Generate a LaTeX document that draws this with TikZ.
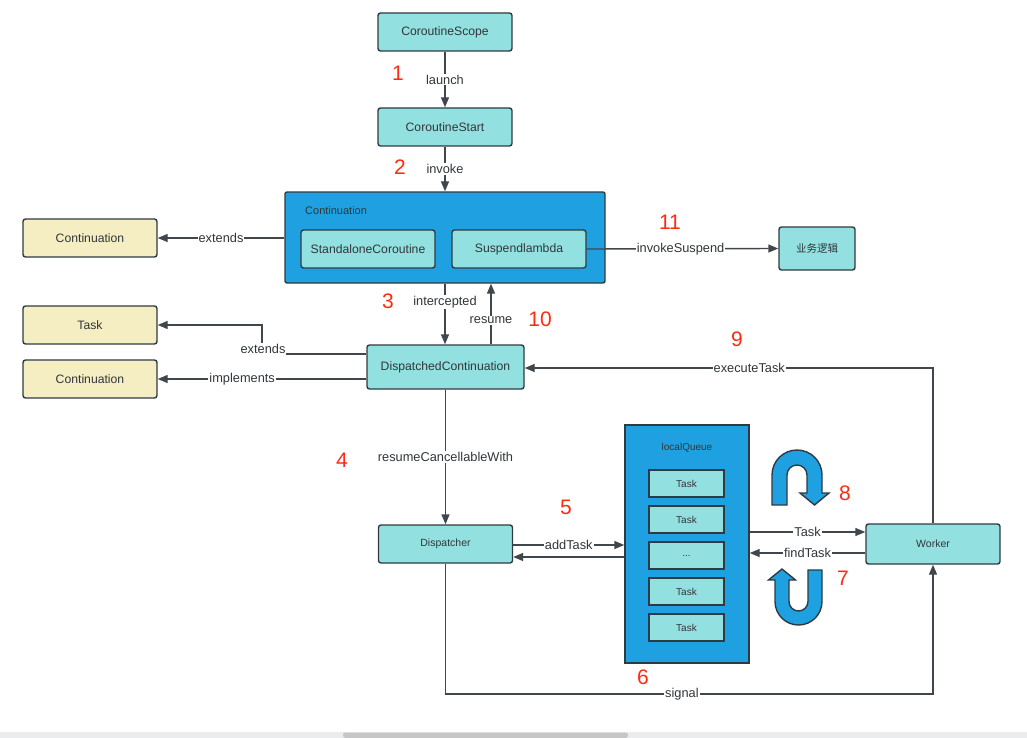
\documentclass[tikz,border=0pt]{standalone}
\usepackage{fontspec}
\setmainfont{Liberation Sans}
\newfontfamily\cjk{Noto Sans CJK SC}
\usetikzlibrary{arrows.meta}
\definecolor{bd}{HTML}{2F3B42}
\definecolor{ln}{HTML}{40464B}
\definecolor{txt}{HTML}{30363A}
\definecolor{cyanf}{HTML}{93E0E0}
\definecolor{blu}{HTML}{1FA1E1}
\definecolor{yel}{HTML}{F6EEC3}
\definecolor{numred}{HTML}{FF2A12}
\definecolor{sbar}{HTML}{EBECED}
\definecolor{sthumb}{HTML}{C6C6C6}
\tikzset{
  box/.style={draw=bd, line width=1.4pt, rounded corners=2.5pt, fill=cyanf,
    minimum width=134pt, minimum height=38pt, inner sep=0pt, text=txt,
    font=\fontsize{12.2}{14}\selectfont},
  ybox/.style={box, fill=yel},
  sbox/.style={box, font=\fontsize{10.5}{12}\selectfont},
  qtask/.style={box, minimum width=75pt, minimum height=27pt, rounded corners=0pt,
    font=\fontsize{10}{12}\selectfont},
  bigbox/.style={draw=bd, line width=1.4pt, rounded corners=2pt, fill=blu, inner sep=0pt},
  arr/.style={draw=ln, line width=1.4pt, -{Triangle[length=10pt,width=8pt]}},
  lbl/.style={fill=white, inner sep=1pt, text=txt, font=\fontsize{12.8}{14}\selectfont},
  num/.style={text=numred, inner sep=0pt, font=\fontsize{21}{24}\selectfont},
  uturn/.style={draw=bd, line width=1.4pt, fill=blu, line join=miter},
}
\begin{document}
\begin{tikzpicture}[x=1pt,y=-1pt]
\useasboundingbox (0,0) rectangle (1027,738);
\fill[white] (0,0) rectangle (1027,738);

% top chain
\node[box] (scope) at (445,32) {CoroutineScope};
\node[box] (start) at (445,127) {CoroutineStart};

% Continuation big box
\node[bigbox, minimum width=320pt, minimum height=91pt] (cont) at (445,237.5) {};
\node[anchor=west, inner sep=0pt, text=txt, font=\fontsize{11}{13}\selectfont] (contlbl) at (305,211) {Continuation};
\node[box] (sc) at (368,249) {StandaloneCoroutine};
\node[box] (sl) at (519,249) {Suspendlambda};
\node[box, minimum width=76pt, minimum height=43pt, font=\cjk\fontsize{10.5}{12}\selectfont] (biz) at (817,248.5) {业务逻辑};

% left yellow boxes
\node[ybox] (yc1) at (90,238) {Continuation};
\node[ybox] (ytask) at (90,325) {Task};
\node[ybox] (yc2) at (90,379) {Continuation};

% DispatchedContinuation
\node[box, minimum width=157pt, minimum height=44pt] (dc) at (445.5,367) {DispatchedContinuation};

% Dispatcher, Worker
\node[sbox] (disp) at (445.5,544) {Dispatcher};
\node[sbox, minimum height=40pt] (worker) at (933,544) {Worker};

% localQueue
\node[bigbox, rounded corners=0pt, minimum width=124pt, minimum height=238pt] (queue) at (687,544) {};
\node[inner sep=0pt, text=txt, font=\fontsize{10}{12}\selectfont] (qlbl) at (687,448) {localQueue};
\node[qtask] (t1) at (686.5,483.5) {Task};
\node[qtask] (t2) at (686.5,519.5) {Task};
\node[qtask] (t3) at (686.5,555.5) {...};
\node[qtask] (t4) at (686.5,591.5) {Task};
\node[qtask] (t5) at (686.5,627.5) {Task};

% connectors
\draw[arr] (scope.south) -- node[lbl] {launch} (start.north);
\draw[arr] (start.south) -- node[lbl] {invoke} (cont.north);
\draw[arr] (cont.west |- 0,238) -- node[lbl] {extends} (yc1.east);
\draw[arr] (sl.east) -- node[lbl, pos=0.49] {invokeSuspend} (biz.west);
\draw[arr] (cont.south) -- node[lbl, pos=0.3] {intercepted} (cont.south |- dc.north);
\draw[arr] (dc.north -| 491,0) -- node[lbl, pos=0.4] {resume} (cont.south -| 491,0);
\coordinate (eb1) at (262,354);
\coordinate (eb2) at (262,325);
\draw[arr] (dc.west |- 0,354) -- (eb1) -- (eb2) -- (ytask.east);
\node[lbl] (extlbl) at (263,349) {extends};
\draw[arr] (dc.west |- 0,379) -- node[lbl, pos=0.595] {implements} (yc2.east);
\draw[arr] (dc.south) -- node[lbl] {resumeCancellableWith} (dc.south |- disp.north);
\draw[arr] (disp.east |- 0,545) -- node[lbl] {addTask} (queue.west |- 0,545);
\draw[arr] (queue.west |- 0,557) -- (disp.east |- 0,557);
\draw[arr] (queue.east |- 0,532) -- node[lbl] {Task} (worker.west |- 0,532);
\draw[arr] (worker.west |- 0,553) -- node[lbl] {findTask} (queue.east |- 0,553);
\coordinate (ex1) at (933,368);
\draw[arr] (worker.north) -- (ex1) -- node[lbl, pos=0.45] {executeTask} (dc.east |- ex1);
\coordinate (sg1) at (445.5,694);
\coordinate (sg2) at (933,694);
\draw[arr] (disp.south) -- (sg1) -- node[lbl, pos=0.485] {signal} (sg2) -- (worker.south);

% U-turn arrows
\draw[uturn] (772,505) -- (772,475)
  .. controls (772,461.2) and (783.2,450) .. (797,450)
  .. controls (810.8,450) and (822,461.2) .. (822,475)
  -- (822,493) -- (829,493) -- (814.5,505) -- (800,493) -- (807,493) -- (807,475)
  .. controls (807,469.5) and (802.5,465) .. (797,465)
  .. controls (791.5,465) and (787,469.5) .. (787,475)
  -- (787,505) -- cycle;
\draw[uturn] (808,570) -- (822,570) -- (822,601.5)
  .. controls (822,614.5) and (811.5,625) .. (798.5,625)
  .. controls (785.5,625) and (775,614.5) .. (775,601.5)
  -- (775,580) -- (768.5,580) -- (782,569) -- (795.5,580) -- (789,580) -- (789,601.5)
  .. controls (789,606.75) and (793.25,611) .. (798.5,611)
  .. controls (803.75,611) and (808,606.75) .. (808,601.5) -- cycle;

% step numbers
\node[num] (n1) at (398,73) {1};
\node[num] (n2) at (400,167) {2};
\node[num] (n3) at (388,301) {3};
\node[num] (n4) at (342,460) {4};
\node[num] (n5) at (566,507) {5};
\node[num] (n6) at (643,677) {6};
\node[num] (n7) at (843,578) {7};
\node[num] (n8) at (845,493) {8};
\node[num] (n9) at (737,339) {9};
\node[num] (n10) at (540,319) {10};
\node[num] (n11) at (670,222) {11};

% scrollbar strip
\fill[sbar] (0,732) rectangle (1027,738);
\fill[sthumb, rounded corners=2.5pt] (343,732.5) rectangle (628,738);
\end{tikzpicture}
\end{document}
